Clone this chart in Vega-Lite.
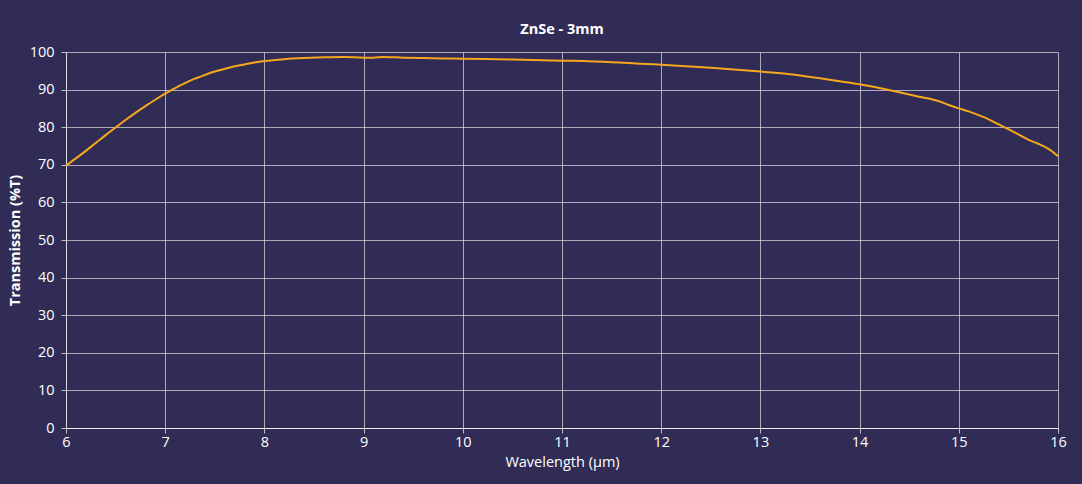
{
  "$schema": "https://vega.github.io/schema/vega-lite/v6.json",
  "width": 992,
  "height": 376,
  "autosize": {"type": "none"},
  "padding": {"left": 66, "top": 52, "right": 24, "bottom": 56},
  "background": "#302c55",
  "title": {
    "text": "ZnSe - 3mm",
    "font": "Open Sans",
    "fontSize": 14.5,
    "fontWeight": "bold",
    "color": "#ffffff",
    "offset": 7
  },
  "config": {
    "view": {"stroke": null},
    "font": "Open Sans"
  },
  "data": {
    "values": [
      {"wl": 6.0, "t": 69.8}, {"wl": 6.1, "t": 71.7}, {"wl": 6.2, "t": 73.7}, {"wl": 6.3, "t": 75.8},
      {"wl": 6.4, "t": 77.9}, {"wl": 6.5, "t": 79.9}, {"wl": 6.6, "t": 81.9}, {"wl": 6.7, "t": 83.8},
      {"wl": 6.8, "t": 85.6}, {"wl": 6.9, "t": 87.3}, {"wl": 7.0, "t": 88.9}, {"wl": 7.1, "t": 90.4},
      {"wl": 7.2, "t": 91.7}, {"wl": 7.3, "t": 92.9}, {"wl": 7.4, "t": 93.9}, {"wl": 7.5, "t": 94.8},
      {"wl": 7.6, "t": 95.5}, {"wl": 7.7, "t": 96.2}, {"wl": 7.8, "t": 96.7}, {"wl": 7.9, "t": 97.2},
      {"wl": 8.0, "t": 97.6}, {"wl": 8.2, "t": 98.1}, {"wl": 8.4, "t": 98.4}, {"wl": 8.6, "t": 98.6},
      {"wl": 8.8, "t": 98.7}, {"wl": 9.0, "t": 98.5}, {"wl": 9.1, "t": 98.5}, {"wl": 9.2, "t": 98.7},
      {"wl": 9.4, "t": 98.5}, {"wl": 9.6, "t": 98.4}, {"wl": 9.8, "t": 98.3}, {"wl": 10.0, "t": 98.2},
      {"wl": 10.5, "t": 98.0}, {"wl": 11.0, "t": 97.7}, {"wl": 11.5, "t": 97.3}, {"wl": 12.0, "t": 96.6},
      {"wl": 12.5, "t": 95.8}, {"wl": 13.0, "t": 94.8}, {"wl": 13.3, "t": 94.1}, {"wl": 13.6, "t": 93.0},
      {"wl": 13.8, "t": 92.2}, {"wl": 14.0, "t": 91.4}, {"wl": 14.2, "t": 90.4}, {"wl": 14.4, "t": 89.3},
      {"wl": 14.6, "t": 88.1}, {"wl": 14.8, "t": 86.9}, {"wl": 14.9, "t": 85.9}, {"wl": 15.0, "t": 85.0},
      {"wl": 15.1, "t": 84.2}, {"wl": 15.2, "t": 83.2}, {"wl": 15.3, "t": 82.1}, {"wl": 15.4, "t": 80.8},
      {"wl": 15.5, "t": 79.5}, {"wl": 15.6, "t": 78.1}, {"wl": 15.7, "t": 76.7}, {"wl": 15.8, "t": 75.6},
      {"wl": 15.9, "t": 74.3}, {"wl": 16.0, "t": 72.3}
    ]
  },
  "mark": {"type": "line", "color": "#f5a81c", "strokeWidth": 2, "interpolate": "monotone"},
  "encoding": {
    "x": {
      "field": "wl",
      "type": "quantitative",
      "scale": {"domain": [6, 16], "nice": false, "zero": false},
      "axis": {
        "title": "Wavelength (µm)",
        "values": [6, 7, 8, 9, 10, 11, 12, 13, 14, 15, 16],
        "format": "d",
        "labelColor": "#ffffff",
        "labelFontSize": 14.5,
        "labelPadding": 2,
        "labelFlush": false,
        "tickColor": "#ffffff",
        "tickOpacity": 0.7,
        "tickSize": 5,
        "domainColor": "#ffffff",
        "domainOpacity": 0.8,
        "gridColor": "#ffffff",
        "gridOpacity": 0.6,
        "titleColor": "#ffffff",
        "titleFontSize": 14.5,
        "titleFontWeight": "normal",
        "titlePadding": 7
      }
    },
    "y": {
      "field": "t",
      "type": "quantitative",
      "scale": {"domain": [0, 100], "nice": false},
      "axis": {
        "title": "Transmission (%T)",
        "values": [0, 10, 20, 30, 40, 50, 60, 70, 80, 90, 100],
        "labelColor": "#ffffff",
        "labelFontSize": 14.5,
        "labelPadding": 7,
        "labelFlush": false,
        "tickColor": "#ffffff",
        "tickOpacity": 0.7,
        "tickSize": 5,
        "domainColor": "#ffffff",
        "domainOpacity": 0.6,
        "gridColor": "#ffffff",
        "gridOpacity": 0.6,
        "titleColor": "#ffffff",
        "titleFontSize": 14.5,
        "titleFontWeight": "bold",
        "titlePadding": 7
      }
    }
  }
}
